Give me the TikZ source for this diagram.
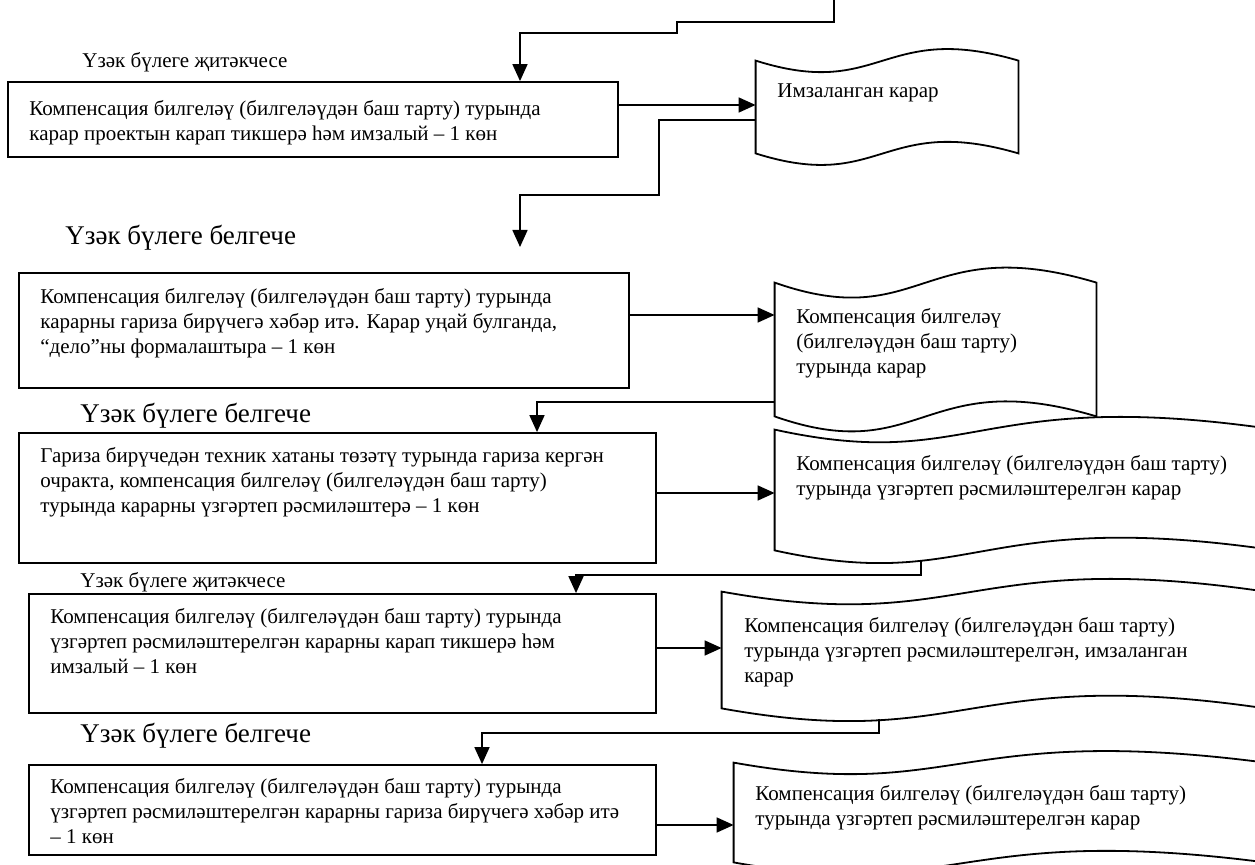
\documentclass[tikz,border=0pt]{standalone}
\usepackage{fontspec}
\setmainfont{Liberation Serif}
\usetikzlibrary{arrows.meta,calc,fit}

\tikzset{
  stepbox/.style={draw, line width=0.9pt, inner sep=0pt},
  docbody/.style={inner sep=0pt},
  docline/.style={line width=0.9pt},
  steptext/.style={anchor=north west, align=left, inner sep=0pt, font=\fontsize{10.5}{12.5}\selectfont},
  headsmall/.style={anchor=west, inner sep=0pt, font=\fontsize{10.5}{12.5}\selectfont},
  headbig/.style={anchor=west, inner sep=0pt, font=\fontsize{13.5}{16}\selectfont},
  flow/.style={line width=0.8pt, -{Triangle[length=8.5pt,width=7.5pt]}},
}

\begin{document}
\begin{tikzpicture}[x=0.5pt,y=-0.5pt]
  \useasboundingbox (0,0) rectangle (1255,865);
  \clip (0,0) rectangle (1255,865);

  % steps
  \node[stepbox, fit={(8,82)(618,157)}] (b1) {};
  \node[stepbox, fit={(19,273)(629,388)}] (b2) {};
  \node[stepbox, fit={(19,433)(656,563)}] (b3) {};
  \node[stepbox, fit={(29,594)(656,713)}] (b4) {};
  \node[stepbox, fit={(29,765)(656,855)}] (b5) {};

  \node[steptext] (t1) at (29,100) {Компенсация билгеләү (билгеләүдән баш тарту) турында\\карар проектын карап тикшерә һәм имзалый – 1 көн};
  \node[steptext] (t2) at (40,288) {Компенсация билгеләү (билгеләүдән баш тарту) турында\\карарны гариза бирүчегә хәбәр итә. Карар уңай булганда,\\“дело”ны формалаштыра – 1 көн};
  \node[steptext] (t3) at (40,447) {Гариза бирүчедән техник хатаны төзәтү турында гариза кергән\\очракта, компенсация билгеләү (билгеләүдән баш тарту)\\турында карарны үзгәртеп рәсмиләштерә – 1 көн};
  \node[steptext] (t4) at (50,608) {Компенсация билгеләү (билгеләүдән баш тарту) турында\\үзгәртеп рәсмиләштерелгән карарны карап тикшерә һәм\\имзалый – 1 көн};
  \node[steptext] (t5) at (50,778) {Компенсация билгеләү (билгеләүдән баш тарту) турында\\үзгәртеп рәсмиләштерелгән карарны гариза бирүчегә хәбәр итә\\– 1 көн};

  % who does it
  \node[headsmall] (h1) at (82,62) {Үзәк бүлеге җитәкчесе};
  \node[headbig] (h2) at (65,238) {Үзәк бүлеге белгече};
  \node[headbig] (h3) at (80,416) {Үзәк бүлеге белгече};
  \node[headsmall] (h4) at (80,582) {Үзәк бүлеге җитәкчесе};
  \node[headbig] (h5) at (80,736) {Үзәк бүлеге белгече};

  % documents
  \node[docbody, fit={(756,61)(1018,153)}] (d1) {};
  \node[docbody, fit={(775,283)(1096,416)}] (d2) {};
  \node[docbody, fit={(775,430)(1275,550)}] (d3) {};
  \node[docbody, fit={(722,592)(1265,708)}] (d4) {};
  \node[docbody, fit={(734,763)(1265,862)}] (d5) {};
  \foreach \d/\f/\a in {d1/0.48/20pt, d2/0.46/26pt, d3/0.4/22pt, d4/0.45/22pt, d5/0.42/20pt}
    \draw[docline] (\d.north west) .. controls ($(\d.north west)!\f!(\d.north east)+(0,-\a)$) and ($(\d.north west)!\f!(\d.north east)+(0,\a)$) .. (\d.north east)
      -- (\d.south east) .. controls ($(\d.south west)!\f!(\d.south east)+(0,\a)$) and ($(\d.south west)!\f!(\d.south east)+(0,-\a)$) .. (\d.south west) -- cycle;

  \node[steptext] (s1) at (777,83) {Имзаланган карар};
  \node[steptext] (s2) at (796,308) {Компенсация билгеләү\\(билгеләүдән баш тарту)\\турында карар};
  \node[steptext] (s3) at (796,455) {Компенсация билгеләү (билгеләүдән баш тарту)\\турында үзгәртеп рәсмиләштерелгән карар};
  \node[steptext] (s4) at (744,617) {Компенсация билгеләү (билгеләүдән баш тарту)\\турында үзгәртеп рәсмиләштерелгән, имзаланган\\карар};
  \node[steptext] (s5) at (755,785) {Компенсация билгеләү (билгеләүдән баш тарту)\\турында үзгәртеп рәсмиләштерелгән карар};

  % connectors
  \coordinate (top) at (834,0);
  \coordinate (c1) at (520,33);
  \draw[flow] (top) |- (677,22) |- (c1) -- (c1 |- b1.north);
  \draw[flow] ([yshift=7.25pt]b1.east) coordinate (o1) -- (o1 -| d1.west);
  \coordinate (a2) at (520,247);
  \draw[flow] ([yshift=-6.5pt]d1.west) -| (659,195) -| (a2);
  \draw[flow] ([yshift=7.75pt]b2.east) coordinate (o2) -- (o2 -| d2.west);
  \coordinate (k3) at (537,0);
  \draw[flow] ([yshift=-26.25pt]d2.west) -| (k3 |- b3.north);
  \draw[flow] ([yshift=2.5pt]b3.east) coordinate (o3) -- (o3 -| d3.west);
  \coordinate (e3) at (921,561);
  \coordinate (k4) at (576,575);
  \draw[flow] (e3) |- (k4) -- (k4 |- b4.north);
  \draw[flow] ([yshift=2.75pt]b4.east) coordinate (o4) -- (o4 -| d4.west);
  \coordinate (e4) at (879,719);
  \coordinate (k5) at (482,733);
  \draw[flow] (e4) |- (k5) -- (k5 |- b5.north);
  \draw[flow] ([yshift=-7.5pt]b5.east) coordinate (o5) -- (o5 -| d5.west);
\end{tikzpicture}
\end{document}
